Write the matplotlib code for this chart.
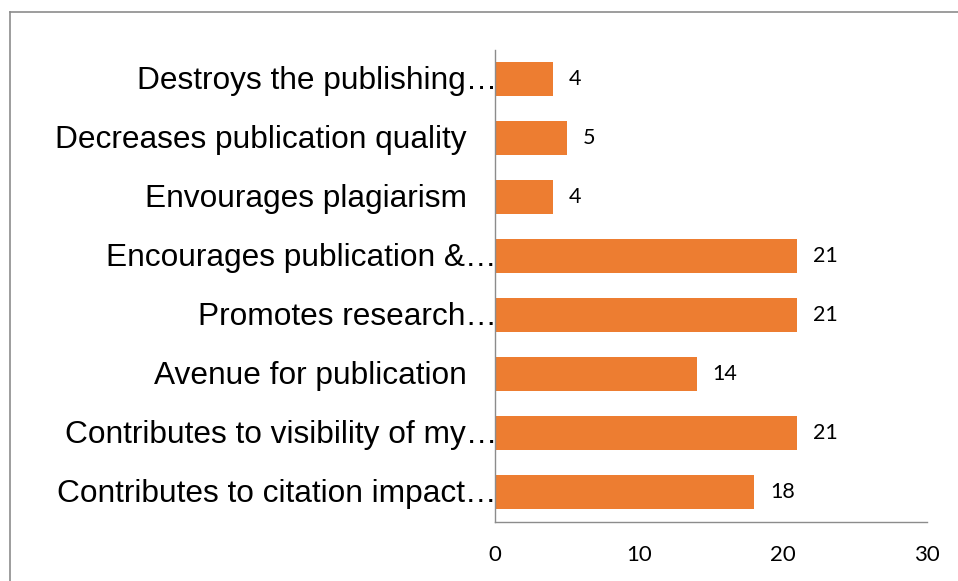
import matplotlib
matplotlib.use("Agg")
from matplotlib import pyplot as plt
from matplotlib.lines import Line2D
from matplotlib.transforms import blended_transform_factory, offset_copy

# bottom to top, as Excel draws them
categories = [
    "Contributes to citation impact…",
    "Contributes to visibility of my…",
    "Avenue for publication",
    "Promotes research…",
    "Encourages publication &…",
    "Envourages plagiarism",
    "Decreases publication quality",
    "Destroys the publishing…",
]
values = [18, 21, 14, 21, 21, 4, 5, 4]
xticks = [0, 10, 20, 30]

orange = "#ED7D31"
grey = "#8C8C8C"

fig = plt.figure(figsize=(9.58, 5.81), dpi=100)
ax = fig.add_axes([0.5167, 0.1024, 0.9676 - 0.5167, 0.9148 - 0.1024])

ypos = range(len(categories))
ax.barh(ypos, values, height=0.58, color=orange)
ax.set_xlim(0, 30)
ax.set_ylim(-0.5, len(categories) - 0.5)

ax.set_xticks(xticks)
ax.set_xticklabels([str(t) for t in xticks], family="Lato", fontsize=16)
ax.tick_params(axis="x", length=0, pad=17)
ax.set_yticks([])

for side in ["top", "right"]:
    ax.spines[side].set_visible(False)
for side in ["left", "bottom"]:
    ax.spines[side].set_color(grey)
    ax.spines[side].set_linewidth(1.0)

# category labels, truncated ones run up to the axis
trans = blended_transform_factory(ax.transAxes, ax.transData)
for y, lab in zip(ypos, categories):
    dx = 2 if lab.endswith("…") else -28
    t = offset_copy(trans, fig=fig, x=dx, y=-2, units="dots")
    ax.text(0, y, lab, transform=t, ha="right", va="center",
            family="Liberation Sans", fontsize=22.8)

# value labels
for y, v in zip(ypos, values):
    t = offset_copy(ax.transData, fig=fig, x=16, y=0, units="dots")
    ax.text(v, y, str(v), transform=t, ha="left", va="center",
            family="Lato", fontsize=15.5)

# chart border (runs off the right and bottom of the picture)
fig.add_artist(Line2D([10 / 958, 1.0], [1 - 12 / 581] * 2, color=grey, lw=1.2))
fig.add_artist(Line2D([10 / 958] * 2, [0.0, 1 - 12 / 581], color=grey, lw=1.2))

fig.savefig("out.png", dpi=100)
